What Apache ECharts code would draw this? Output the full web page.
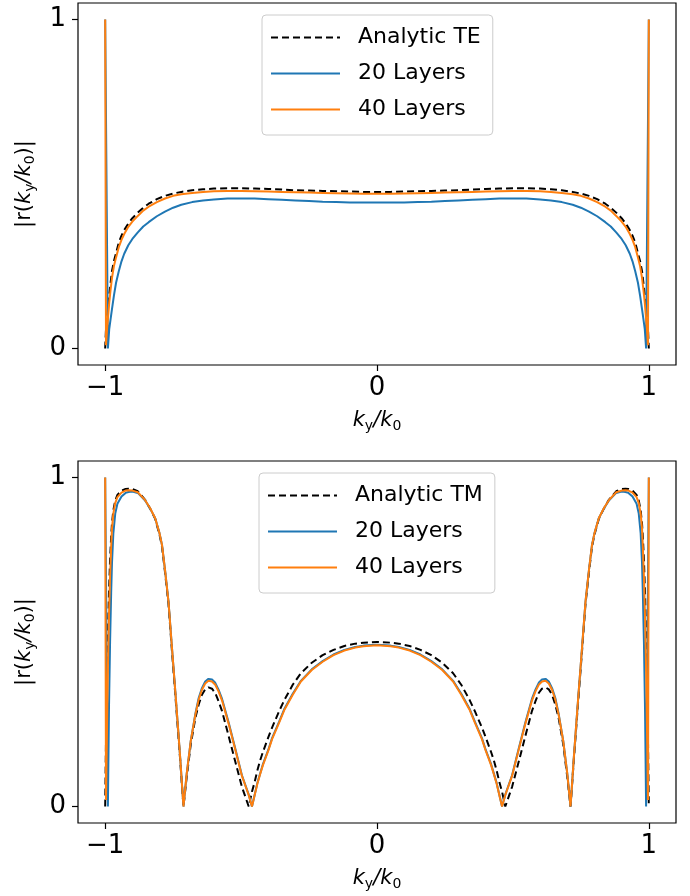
<!DOCTYPE html>
<html>
<head>
<meta charset="utf-8">
<script src="https://cdn.jsdelivr.net/npm/echarts@6/dist/echarts.min.js"></script>
<style>
  html, body { margin: 0; padding: 0; background: #fff; }
  #main { width: 690px; height: 896px; }
</style>
</head>
<body>
<div id="main"></div>
<script>
// ---- data ----
// top panel (TE)
var kyTop = [-1, -0.997, -0.993, -0.99, -0.985, -0.98, -0.975, -0.968, -0.96, -0.95,
  -0.94, -0.93, -0.915, -0.9, -0.88, -0.86, -0.84, -0.81, -0.78, -0.75,
  -0.72, -0.68, -0.64, -0.6, -0.55, -0.5, -0.45, -0.4, -0.35, -0.3,
  -0.25, -0.2, -0.15, -0.1, -0.05, 0,
  0.05, 0.1, 0.15, 0.2, 0.25, 0.3, 0.35, 0.4, 0.45, 0.5,
  0.55, 0.6, 0.64, 0.68, 0.72, 0.75, 0.78, 0.81, 0.84, 0.86,
  0.88, 0.9, 0.915, 0.93, 0.94, 0.95, 0.96, 0.968, 0.975, 0.98,
  0.985, 0.99, 0.993, 0.997, 1];
var teAnalytic = [0.0, 0.06, 0.1, 0.125, 0.165, 0.2, 0.235, 0.265, 0.29, 0.322,
  0.343, 0.36, 0.38, 0.396, 0.413, 0.428, 0.44, 0.454, 0.464, 0.471,
  0.476, 0.481, 0.484, 0.486, 0.487, 0.487, 0.486, 0.485, 0.483, 0.481,
  0.48, 0.479, 0.478, 0.477, 0.476, 0.476,
  0.476, 0.477, 0.478, 0.479, 0.48, 0.481, 0.483, 0.485, 0.486, 0.487,
  0.487, 0.486, 0.484, 0.481, 0.476, 0.471, 0.464, 0.454, 0.44, 0.428,
  0.413, 0.396, 0.38, 0.36, 0.343, 0.322, 0.29, 0.265, 0.235, 0.2,
  0.165, 0.125, 0.1, 0.06, 0.0];
var te20 = [1.0, 0.7, 0.3, 0.0, 0.06, 0.09, 0.12, 0.16, 0.2, 0.235,
  0.265, 0.288, 0.314, 0.333, 0.353, 0.371, 0.384, 0.402, 0.416, 0.428,
  0.437, 0.445, 0.45, 0.453, 0.456, 0.456, 0.456, 0.454, 0.452, 0.45,
  0.448, 0.446, 0.445, 0.444, 0.444, 0.444,
  0.444, 0.444, 0.445, 0.446, 0.448, 0.45, 0.452, 0.454, 0.456, 0.456,
  0.456, 0.453, 0.45, 0.445, 0.437, 0.428, 0.416, 0.402, 0.384, 0.371,
  0.353, 0.333, 0.314, 0.288, 0.265, 0.235, 0.2, 0.16, 0.12, 0.09,
  0.06, 0.0, 0.3, 0.7, 1.0];
var te40 = [1.0, 0.01, 0.06, 0.09, 0.14, 0.18, 0.215, 0.25, 0.277, 0.308,
  0.33, 0.348, 0.37, 0.386, 0.403, 0.419, 0.431, 0.445, 0.456, 0.464,
  0.469, 0.473, 0.476, 0.478, 0.479, 0.479, 0.478, 0.477, 0.476, 0.475,
  0.474, 0.473, 0.472, 0.471, 0.47, 0.47,
  0.47, 0.471, 0.472, 0.473, 0.474, 0.475, 0.476, 0.477, 0.478, 0.479,
  0.479, 0.478, 0.476, 0.473, 0.469, 0.464, 0.456, 0.445, 0.431, 0.419,
  0.403, 0.386, 0.37, 0.348, 0.33, 0.308, 0.277, 0.25, 0.215, 0.18,
  0.14, 0.09, 0.06, 0.01, 1.0];

// bottom panel (TM)
var kyBot = [-1, -0.997, -0.993, -0.99, -0.986, -0.982, -0.978, -0.975, -0.97, -0.963,
  -0.955, -0.94, -0.925, -0.914, -0.9, -0.88, -0.853, -0.835, -0.816, -0.8,
  -0.791, -0.78, -0.767, -0.755, -0.742, -0.733, -0.724, -0.712, -0.7, -0.685,
  -0.668, -0.656, -0.644, -0.632, -0.62, -0.607, -0.595, -0.583, -0.57, -0.546,
  -0.521, -0.497, -0.472, -0.46, -0.45, -0.44, -0.43, -0.42, -0.4, -0.386,
  -0.36, -0.34, -0.31, -0.28, -0.24, -0.2, -0.16, -0.12, -0.08, -0.05,
  0,
  0.05, 0.08, 0.12, 0.16, 0.2, 0.24, 0.28, 0.31, 0.34, 0.36,
  0.386, 0.4, 0.42, 0.43, 0.44, 0.45, 0.46, 0.472, 0.497, 0.521,
  0.546, 0.57, 0.583, 0.595, 0.607, 0.62, 0.632, 0.644, 0.656, 0.668,
  0.685, 0.7, 0.712, 0.724, 0.733, 0.742, 0.755, 0.767, 0.78, 0.791,
  0.8, 0.816, 0.835, 0.853, 0.88, 0.9, 0.914, 0.925, 0.94, 0.955,
  0.963, 0.97, 0.975, 0.978, 0.982, 0.986, 0.99, 0.993, 0.997, 1];
var tmAnalytic = [0.0, 0.2, 0.4, 0.52, 0.65, 0.75, 0.82, 0.86, 0.9, 0.93,
  0.947, 0.96, 0.965, 0.966, 0.965, 0.958, 0.932, 0.906, 0.874, 0.826,
  0.79, 0.713, 0.615, 0.48, 0.34, 0.24, 0.14, 0.0, 0.09, 0.19,
  0.27, 0.31, 0.34, 0.356, 0.362, 0.358, 0.345, 0.32, 0.29, 0.215,
  0.135, 0.06, 0.0, 0.045, 0.075, 0.11, 0.14, 0.165, 0.21, 0.24,
  0.29, 0.325, 0.37, 0.405, 0.437, 0.46, 0.476, 0.488, 0.495, 0.498,
  0.5,
  0.498, 0.495, 0.488, 0.476, 0.46, 0.437, 0.405, 0.37, 0.325, 0.29,
  0.24, 0.21, 0.165, 0.14, 0.11, 0.075, 0.045, 0.0, 0.06, 0.135,
  0.215, 0.29, 0.32, 0.345, 0.358, 0.362, 0.356, 0.34, 0.31, 0.27,
  0.19, 0.09, 0.0, 0.14, 0.24, 0.34, 0.48, 0.615, 0.713, 0.79,
  0.826, 0.874, 0.906, 0.932, 0.958, 0.965, 0.966, 0.965, 0.96, 0.947,
  0.93, 0.9, 0.86, 0.82, 0.75, 0.65, 0.52, 0.4, 0.2, 0.0];
var tm20 = [1.0, 0.7, 0.3, 0.0, 0.3, 0.5, 0.65, 0.74, 0.83, 0.89,
  0.92, 0.942, 0.953, 0.956, 0.957, 0.953, 0.93, 0.906, 0.876, 0.83,
  0.795, 0.72, 0.622, 0.49, 0.349, 0.25, 0.147, 0.0, 0.1, 0.2,
  0.283, 0.33, 0.36, 0.38, 0.388, 0.386, 0.376, 0.355, 0.327, 0.256,
  0.175, 0.095, 0.036, 0.0, 0.036, 0.072, 0.1, 0.128, 0.172, 0.208,
  0.258, 0.298, 0.343, 0.382, 0.417, 0.442, 0.462, 0.476, 0.485, 0.489,
  0.492,
  0.489, 0.485, 0.476, 0.462, 0.442, 0.417, 0.382, 0.343, 0.298, 0.258,
  0.208, 0.172, 0.128, 0.1, 0.072, 0.036, 0.0, 0.036, 0.095, 0.175,
  0.256, 0.327, 0.355, 0.376, 0.386, 0.388, 0.38, 0.36, 0.33, 0.283,
  0.2, 0.1, 0.0, 0.147, 0.25, 0.349, 0.49, 0.622, 0.72, 0.795,
  0.83, 0.876, 0.906, 0.93, 0.953, 0.957, 0.956, 0.953, 0.942, 0.92,
  0.89, 0.83, 0.74, 0.65, 0.5, 0.3, 0.0, 0.3, 0.7, 1.0];
var tm40 = [1.0, 0.02, 0.25, 0.42, 0.58, 0.70, 0.79, 0.845, 0.89, 0.922,
  0.94, 0.954, 0.96, 0.961, 0.96, 0.955, 0.931, 0.907, 0.876, 0.83,
  0.795, 0.72, 0.622, 0.49, 0.349, 0.25, 0.147, 0.0, 0.1, 0.2,
  0.28, 0.325, 0.355, 0.374, 0.382, 0.38, 0.37, 0.35, 0.322, 0.252,
  0.172, 0.093, 0.035, 0.0, 0.035, 0.07, 0.098, 0.125, 0.17, 0.205,
  0.255, 0.295, 0.34, 0.38, 0.415, 0.44, 0.46, 0.474, 0.483, 0.487,
  0.49,
  0.487, 0.483, 0.474, 0.46, 0.44, 0.415, 0.38, 0.34, 0.295, 0.255,
  0.205, 0.17, 0.125, 0.098, 0.07, 0.035, 0.0, 0.035, 0.093, 0.172,
  0.252, 0.322, 0.35, 0.37, 0.38, 0.382, 0.374, 0.355, 0.325, 0.28,
  0.2, 0.1, 0.0, 0.147, 0.25, 0.349, 0.49, 0.622, 0.72, 0.795,
  0.83, 0.876, 0.907, 0.931, 0.955, 0.96, 0.961, 0.96, 0.954, 0.94,
  0.922, 0.89, 0.845, 0.79, 0.70, 0.58, 0.42, 0.25, 0.02, 1.0];

var xTicks = [-1, 0, 1];
var yTicks = [0, 1];

// ---- chart ----
var FONT = 'DejaVu Sans';
var myChart = echarts.init(document.getElementById('main'));

function pairs(xs, ys) {
  return xs.map(function (x, i) { return [x, ys[i]]; });
}

var subRich = {
  n: { fontFamily: FONT, fontSize: 21, color: '#000', lineHeight: 25, verticalAlign: 'middle' },
  i: { fontFamily: FONT, fontStyle: 'italic', fontSize: 21, color: '#000', lineHeight: 25, verticalAlign: 'middle' },
  s: { fontFamily: FONT, fontSize: 14, color: '#000', lineHeight: 14, verticalAlign: 'bottom' }
};

function xAxisCfg(idx) {
  return {
    type: 'value', gridIndex: idx, min: -1.1, max: 1.1,
    splitLine: { show: false },
    axisLine: { show: false, onZero: false },
    axisTick: { show: true, customValues: xTicks, length: 6, lineStyle: { color: '#000', width: 1.2 } },
    axisLabel: {
      customValues: xTicks, margin: 10, color: '#000', fontFamily: FONT, fontSize: 26,
      formatter: function (v) { return v < 0 ? '\u2212' + Math.abs(v) : String(v); }
    },
    name: '{i|k}{s|y}{i|/k}{s|0}',
    nameLocation: 'middle', nameGap: 43,
    nameTextStyle: { rich: subRich }
  };
}

function yAxisCfg(idx) {
  return {
    type: 'value', gridIndex: idx, min: -0.05, max: 1.05,
    splitLine: { show: false },
    axisLine: { show: false, onZero: false },
    axisTick: { show: true, customValues: yTicks, length: 6, lineStyle: { color: '#000', width: 1.2 } },
    axisLabel: { customValues: yTicks, margin: 12, color: '#000', fontFamily: FONT, fontSize: 26 },
    name: '{n||r(}{i|k}{s|y}{i|/k}{s|0}{n|)|}',
    nameLocation: 'middle', nameGap: 41, nameRotate: 90,
    nameTextStyle: { rich: subRich }
  };
}

function legendCfg(top, left, names) {
  return {
    data: names, orient: 'vertical', left: left, top: top,
    itemWidth: 69, itemHeight: 14, itemGap: 11,
    padding: [10, 12, 13, 8],
    borderColor: '#ccc', borderWidth: 1, borderRadius: 4,
    backgroundColor: '#fff',
    itemStyle: { color: 'rgba(0,0,0,0)', borderWidth: 0, opacity: 0 },
    textStyle: { fontFamily: FONT, fontSize: 22, color: '#000', lineHeight: 25, padding: [0, 0, 0, 13] }
  };
}

function lineSeries(name, xs, ys, idx, color, dashed, z) {
  return {
    name: name, type: 'line', xAxisIndex: idx, yAxisIndex: idx,
    data: pairs(xs, ys), showSymbol: false, symbol: 'none', z: z,
    lineStyle: { color: color, width: 2, type: dashed ? [7, 4] : 'solid' },
    itemStyle: { color: color }
  };
}

var option = {
  animation: false,
  backgroundColor: '#fff',
  grid: [
    { left: 78, right: 14, top: 3, height: 362, show: true, borderColor: '#000', borderWidth: 1.2, backgroundColor: 'transparent' },
    { left: 78, right: 14, top: 461, height: 362, show: true, borderColor: '#000', borderWidth: 1.2, backgroundColor: 'transparent' }
  ],
  xAxis: [xAxisCfg(0), xAxisCfg(1)],
  yAxis: [yAxisCfg(0), yAxisCfg(1)],
  legend: [
    legendCfg(15, 262, ['Analytic TE', '20 Layers', '40 Layers']),
    legendCfg(473, 259, ['Analytic TM', '20 Layers', '40 Layers'])
  ],
  series: [
    lineSeries('Analytic TE', kyTop, teAnalytic, 0, '#000', true, 2),
    lineSeries('20 Layers', kyTop, te20, 0, '#1f77b4', false, 3),
    lineSeries('40 Layers', kyTop, te40, 0, '#ff7f0e', false, 4),
    lineSeries('Analytic TM', kyBot, tmAnalytic, 1, '#000', true, 2),
    lineSeries('20 Layers', kyBot, tm20, 1, '#1f77b4', false, 3),
    lineSeries('40 Layers', kyBot, tm40, 1, '#ff7f0e', false, 4)
  ]
};

myChart.setOption(option);
</script>
</body>
</html>
